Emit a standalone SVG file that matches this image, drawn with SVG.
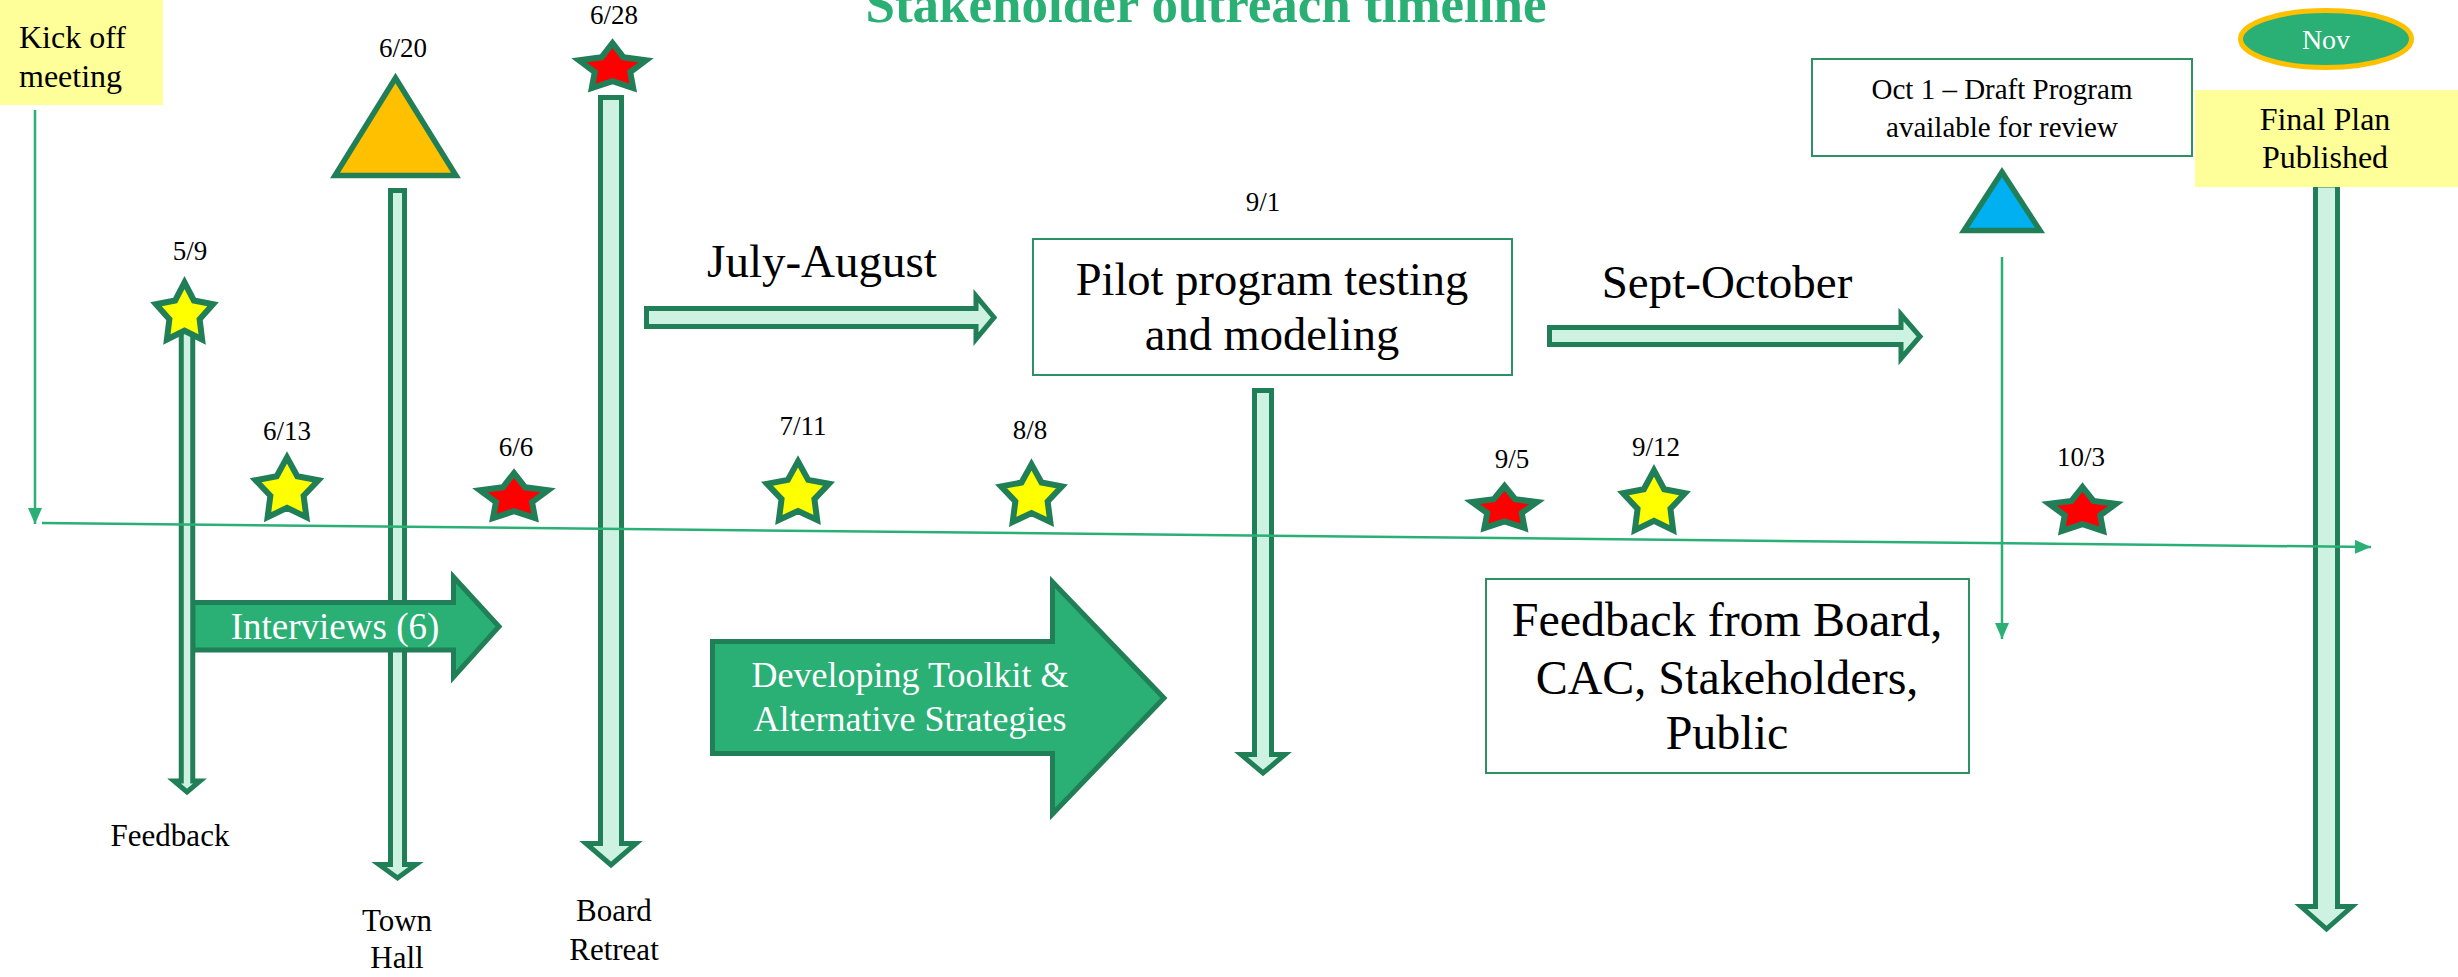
<svg xmlns="http://www.w3.org/2000/svg" width="2458" height="977" viewBox="0 0 2458 977">
<style>
text{font-family:"Liberation Serif","Times New Roman",serif;fill:#000}
.c{text-anchor:middle}
.w{fill:#fff}
.title{font-weight:bold;fill:#2AAF75;font-size:53px}
.lbl{font-size:27px}
.mint{fill:#CEF2E1;stroke:#217F57;stroke-width:5}
.blk{fill:#2AAF75;stroke:#217F57;stroke-width:5}
.ys{fill:#FFFF00;stroke:#217F57;stroke-width:6}
.rs{fill:#FF0000;stroke:#217F57;stroke-width:6}
.tri{stroke:#217F57;stroke-width:5.5}
.box{fill:#fff;stroke:#2E9163;stroke-width:2}
.note{fill:#FFFF99}
.thin{fill:none;stroke:#2AAF75;stroke-width:2.5}
</style>
<defs>
<marker id="ah" markerUnits="userSpaceOnUse" markerWidth="16" markerHeight="14" refX="16" refY="7" orient="auto">
<path d="M0,0 L16,7 L0,14 Z" fill="#2AAF75"/>
</marker>
</defs>
<rect width="2458" height="977" fill="#fff"/>
<ellipse cx="79" cy="-15" rx="30" ry="20" fill="#FFC000"/>
<text class="title c" x="1206" y="22">Stakeholder outreach timeline</text>

<g id="townhall-arrow"><path class="mint" d="M390.5,190.5 H404.5 V864.5 H416 L397.5,878 L379,864.5 H390.5 Z"/><text class="c" x="397" y="931" font-size="31">Town</text><text class="c" x="397" y="968" font-size="31">Hall</text></g>
<g id="board-arrow"><path class="mint" d="M600.5,97.5 H621.5 V843.5 H636 L611,865 L586,843.5 H600.5 Z"/><text class="c" x="614" y="921" font-size="31">Board</text><text class="c" x="614" y="960" font-size="31">Retreat</text></g>
<g id="pilot-arrow"><path class="mint" d="M1254.5,390.5 H1271.5 V754.5 H1285 L1263,773 L1241,754.5 H1254.5 Z"/></g>
<g id="final-arrow"><path class="mint" d="M2315.5,185 H2337.5 V906.5 H2352 L2326.5,929 L2301,906.5 H2315.5 Z"/></g>

<g id="interviews"><path class="blk" d="M192.75,602.5 H453.5 V577 L499,626.5 L453.5,677 V650 H192.75 Z"/><text class="c w" x="335" y="639" font-size="37">Interviews (6)</text></g>
<g id="feedback-arrow"><path class="mint" d="M181.25,325 H192.75 V781 H200 L187,792 L174,781 H181.25 Z"/><text class="c" x="170" y="846" font-size="31">Feedback</text></g>

<g id="toolkit"><path class="blk" d="M712.5,641.5 H1052.5 V582 L1164,698 L1052.5,814 V753.5 H712.5 Z"/><text class="c w" x="910" y="687" font-size="36">Developing Toolkit &amp;</text><text class="c w" x="910" y="731" font-size="36">Alternative Strategies</text></g>

<g id="july-august"><path class="mint" d="M646.5,308.5 H976 V296 L994,317.5 L976,339 V326.5 H646.5 Z"/><text class="c" x="822" y="277" font-size="47">July-August</text></g>
<g id="sept-october"><path class="mint" d="M1549.5,327.5 H1901 V314.5 L1920,336.5 L1901,358.5 V344.5 H1549.5 Z"/><text class="c" x="1727" y="298" font-size="47">Sept-October</text></g>

<g id="kickoff"><rect class="note" x="0" y="0" width="163" height="105"/><text x="19" y="48" font-size="32">Kick off</text><text x="19" y="87" font-size="32">meeting</text></g>

<g id="pilot"><rect class="box" x="1033" y="239" width="479" height="136"/><text class="c lbl" x="1263" y="211">9/1</text><text class="c" x="1272" y="295" font-size="46.5">Pilot program testing</text><text class="c" x="1272" y="350" font-size="46.5">and modeling</text></g>

<g id="feedback-box"><rect class="box" x="1486" y="579" width="483" height="194"/><text class="c" x="1727" y="636" font-size="48">Feedback from Board,</text><text class="c" x="1727" y="694" font-size="48">CAC, Stakeholders,</text><text class="c" x="1727" y="749" font-size="48">Public</text></g>

<g id="oct1"><rect class="box" x="1812" y="59" width="380" height="97"/><text class="c" x="2002" y="99" font-size="29">Oct 1 – Draft Program</text><text class="c" x="2002" y="137" font-size="29">available for review</text></g>
<g id="oct1-triangle"><path class="tri" d="M2002,172 L2040,230.5 L1964,230.5 Z" fill="#00B0F0"/></g>

<g id="nov"><ellipse cx="2326" cy="39" rx="85.5" ry="28.5" fill="#2AAF75" stroke="#FFC000" stroke-width="5"/><text class="c w" x="2326" y="49" font-size="28">Nov</text></g>
<g id="final"><rect class="note" x="2195" y="90" width="263" height="97"/><text class="c" x="2325" y="130" font-size="32">Final Plan</text><text class="c" x="2325" y="168" font-size="32">Published</text></g>

<g id="connectors">
<line class="thin" x1="42" y1="523" x2="2371" y2="547" marker-end="url(#ah)"/>
<line class="thin" x1="35" y1="110" x2="35" y2="524" marker-end="url(#ah)"/>
<line class="thin" x1="2002" y1="257" x2="2002" y2="639" marker-end="url(#ah)"/>
</g>

<g id="m-5-9"><path class="ys" d="M184.5,282.5 L193.85,300.49 L213.03,304.27 L199.62,319.16 L202.13,339.48 L184.5,330.7 L166.87,339.48 L169.38,319.16 L155.97,304.27 L175.15,300.49 Z"/><text class="c lbl" x="190" y="260">5/9</text></g>
<g id="m-6-20"><path class="tri" d="M395.5,78 L456,175.5 L335,175.5 Z" fill="#FFC000"/><text class="c lbl" x="403" y="57">6/20</text></g>
<g id="m-6-28"><path class="rs" d="M612.5,43.1 L623.46,57.32 L645.98,60.31 L630.24,72.08 L633.19,88.14 L612.5,81.2 L591.81,88.14 L594.76,72.08 L579.02,60.31 L601.54,57.32 Z"/><text class="c lbl" x="614" y="24">6/28</text></g>
<g id="m-6-13"><path class="ys" d="M287,457.4 L297.28,476.25 L318.39,480.2 L303.64,495.81 L306.4,517.1 L287,507.89 L267.6,517.1 L270.36,495.81 L255.61,480.2 L276.72,476.25 Z"/><text class="c lbl" x="287" y="440">6/13</text></g>
<g id="m-6-6"><path class="rs" d="M514,473.1 L525.15,487.32 L548.05,490.31 L532.05,502.08 L535.04,518.14 L514,511.2 L492.96,518.14 L495.95,502.08 L479.95,490.31 L502.85,487.32 Z"/><text class="c lbl" x="516" y="456">6/6</text></g>
<g id="m-7-11"><path class="ys" d="M798,461.4 L808.16,479.91 L829.01,483.79 L814.43,499.11 L817.16,520.01 L798,510.97 L778.84,520.01 L781.57,499.11 L766.99,483.79 L787.84,479.91 Z"/><text class="c lbl" x="803" y="435">7/11</text></g>
<g id="m-8-8"><path class="ys" d="M1031.5,464.4 L1041.47,482.56 L1061.94,486.37 L1047.63,501.41 L1050.31,521.93 L1031.5,513.05 L1012.69,521.93 L1015.37,501.41 L1001.06,486.37 L1021.53,482.56 Z"/><text class="c lbl" x="1030" y="439">8/8</text></g>
<g id="m-9-5"><path class="rs" d="M1504.5,486 L1515.15,499.25 L1537.03,502.03 L1521.74,513 L1524.6,527.97 L1504.5,521.5 L1484.4,527.97 L1487.26,513 L1471.97,502.03 L1493.85,499.25 Z"/><text class="c lbl" x="1512" y="468">9/5</text></g>
<g id="m-9-12"><path class="ys" d="M1654,470.4 L1664.16,489.25 L1685.01,493.2 L1670.43,508.81 L1673.16,530.1 L1654,520.89 L1634.84,530.1 L1637.57,508.81 L1622.99,493.2 L1643.84,489.25 Z"/><text class="c lbl" x="1656" y="456">9/12</text></g>
<g id="m-10-3"><path class="rs" d="M2082.5,487 L2093.46,500.88 L2115.98,503.79 L2100.24,515.28 L2103.19,530.96 L2082.5,524.18 L2061.81,530.96 L2064.76,515.28 L2049.02,503.79 L2071.54,500.88 Z"/><text class="c lbl" x="2081" y="466">10/3</text></g>
</svg>
